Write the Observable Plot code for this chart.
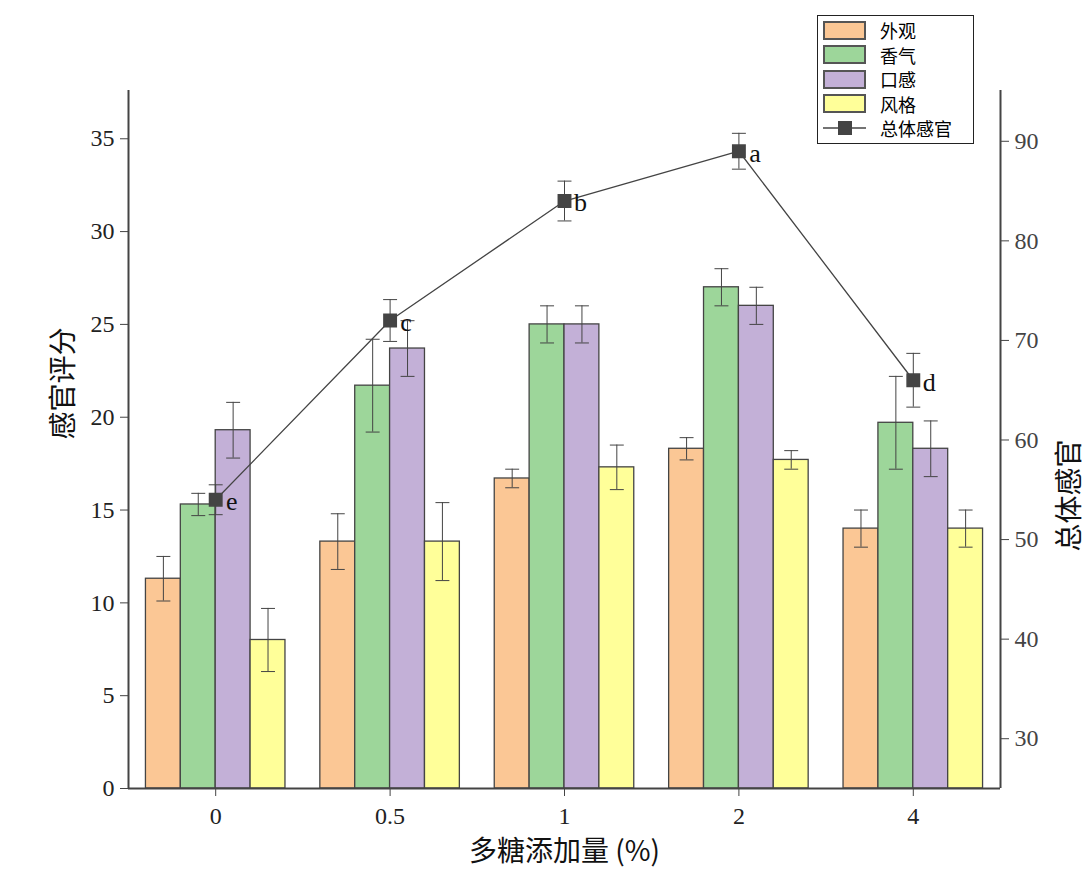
<!DOCTYPE html>
<html><head><meta charset="utf-8">
<script src="https://cdn.jsdelivr.net/npm/d3@7"></script>
<script src="https://cdn.jsdelivr.net/npm/@observablehq/plot@0.6"></script>
<style>
body{margin:0;background:#fff;}
#wrap{position:relative;width:1091px;height:890px;}
#legend{position:absolute;left:817px;top:15px;width:157px;height:129px;border:1px solid #222;background:#fff;font-family:"Noto Sans CJK SC";font-size:18px;box-sizing:border-box;z-index:2;}
.li{position:absolute;left:5px;height:22px;display:flex;align-items:center;}
.sw{width:43px;height:19px;border:2px solid #555;box-sizing:border-box;margin-right:14px;}
</style></head><body>
<div id="wrap"><div id="legend"></div></div>
<script>
const categories = ["0","0.5","1","2","4"];
const series = ["外观","香气","口感","风格"];
const colors = ["#FBC795","#9DD69A","#C3B0D7","#FFFF99"];
const appearance = [11.3,13.3,16.7,18.3,14.0];
const appearanceErr = [1.2,1.5,0.5,0.6,1.0];
const aroma = [15.3,21.7,25.0,27.0,19.7];
const aromaErr = [0.6,2.5,1.0,1.0,2.5];
const taste = [19.3,23.7,25.0,26.0,18.3];
const tasteErr = [1.5,1.5,1.0,1.0,1.5];
const style = [8.0,13.3,17.3,17.7,14.0];
const styleErr = [1.7,2.1,1.2,0.5,1.0];
const overall = [54,72,84,89,66];
const overallErr = [1.5,2.1,2.0,1.8,2.7];
const letters = ["e","c","b","a","d"];
const rightTicks = [30,40,50,60,70,80,90];

const L0=0,L1=37.6,R0=25,R1=95.1;
const toLeft = v => L0+(v-R0)*(L1-L0)/(R1-R0);
const toRight = v => R0+(v-L0)*(R1-R0)/(L1-L0);

const vals=[appearance,aroma,taste,style], errs=[appearanceErr,aromaErr,tasteErr,styleErr];
const bars=[];
vals.forEach((arr,j)=>arr.forEach((v,i)=>bars.push({i,j,s:series[j],v,e:errs[j][i],x1:i-0.4+j*0.2,x2:i-0.2+j*0.2,c:i-0.3+j*0.2})));
const caps=[];
bars.forEach(d=>{caps.push({x1:d.c-0.04,x2:d.c+0.04,y:d.v-d.e});caps.push({x1:d.c-0.04,x2:d.c+0.04,y:d.v+d.e});});
const line=overall.map((v,i)=>({i,v:toLeft(v),lo:toLeft(v-overallErr[i]),hi:toLeft(v+overallErr[i]),t:letters[i]}));
line.forEach(d=>{caps.push({x1:d.i-0.04,x2:d.i+0.04,y:d.lo});caps.push({x1:d.i-0.04,x2:d.i+0.04,y:d.hi});});

const font='"Liberation Serif","Noto Sans CJK SC",serif';
const plot=Plot.plot({
  width:1091,height:890,marginLeft:128,marginRight:91,marginTop:90,marginBottom:102,
  style:{fontFamily:font,fontSize:"22px",color:"#222",background:"transparent"},
  x:{type:"linear",domain:[-0.5,4.5],axis:null},
  y:{type:"linear",domain:[L0,L1],axis:null},
  color:{domain:series,range:colors},
  marks:[
    Plot.rectY(bars,{x1:"x1",x2:"x2",y1:0,y2:"v",fill:"s",stroke:"#444",strokeWidth:1.3}),
    Plot.ruleX(bars,{x:"c",y1:d=>d.v-d.e,y2:d=>d.v+d.e,stroke:"#444",strokeWidth:1}),
    Plot.line(line,{x:"i",y:"v",stroke:"#444",strokeWidth:1.3}),
    Plot.ruleX(line,{x:"i",y1:"lo",y2:"hi",stroke:"#444",strokeWidth:1}),
    Plot.link(caps,{x1:"x1",x2:"x2",y1:"y",y2:"y",stroke:"#444",strokeWidth:1}),
    Plot.dot(line,{x:"i",y:"v",symbol:"square",r:7,fill:"#444",stroke:"#444"}),
    Plot.text(line,{x:"i",y:"v",text:"t",dx:16,dy:2,fontSize:26,fill:"#111"}),
    Plot.axisX({ticks:[0,1,2,3,4],tickFormat:i=>categories[i],tickSize:8,tickPadding:10,fontSize:24,stroke:"#444",label:null}),
    Plot.axisY({anchor:"left",ticks:[0,5,10,15,20,25,30,35],tickSize:8,tickPadding:6,fontSize:24,stroke:"#444",label:null}),
    Plot.axisY({anchor:"right",ticks:rightTicks.map(toLeft),tickFormat:v=>Math.round(toRight(v)),tickSize:8,tickPadding:6,fontSize:24,stroke:"#444",fill:"#444",label:null}),
    Plot.ruleX([-0.5],{stroke:"#444",strokeWidth:2}),
    Plot.ruleX([4.5],{stroke:"#444",strokeWidth:2}),
    Plot.ruleY([0],{stroke:"#444",strokeWidth:2}),
    Plot.text(["多糖添加量 (%)"],{frameAnchor:"bottom",dy:72,fontSize:28,fontFamily:"Noto Sans CJK SC",fill:"#111"}),
    Plot.text(["感官评分"],{frameAnchor:"left",dx:-64,rotate:-90,fontSize:28,fontFamily:"Noto Sans CJK SC",fill:"#111"}),
    Plot.text(["总体感官"],{frameAnchor:"right",dx:70,rotate:-90,fontSize:28,fontFamily:"Noto Sans CJK SC",fill:"#111"})
  ]
});
const wrap=document.getElementById("wrap");
plot.style.position="absolute";plot.style.left="0";plot.style.top="0";
wrap.appendChild(plot);
const lg=document.getElementById("legend");
series.forEach((s,k)=>{lg.innerHTML+=`<div class="li" style="top:${3+k*24.5}px"><div class="sw" style="background:${colors[k]}"></div>${s}</div>`;});
lg.innerHTML+=`<div class="li" style="top:${3+4*24.5}px"><svg width="43" height="20" style="margin-right:14px"><line x1="0" y1="10" x2="43" y2="10" stroke="#444" stroke-width="1.5"/><rect x="15" y="3" width="14" height="14" fill="#444"/></svg>总体感官</div>`;
</script></body></html>
